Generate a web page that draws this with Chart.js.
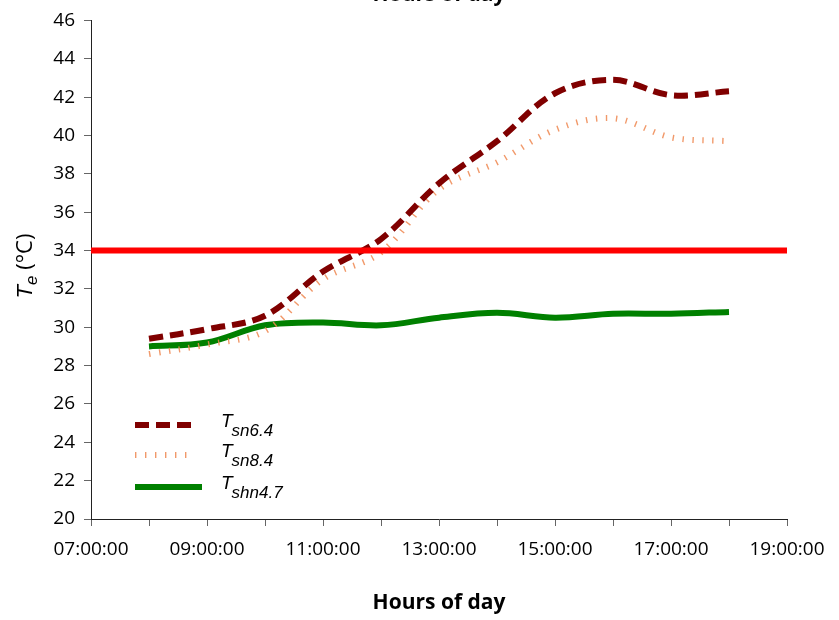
<!DOCTYPE html>
<html>
<head>
<meta charset="utf-8">
<script src="https://cdn.jsdelivr.net/npm/chart.js@4/dist/chart.umd.min.js"></script>
<style>
  html, body { margin: 0; padding: 0; background: #fff; overflow: hidden; }
  #wrap { position: relative; width: 839px; height: 620px; }
</style>
</head>
<body>
<div id="wrap"><canvas id="chart" width="839" height="620"></canvas></div>
<script>
// Hourly operative temperatures (°C)
const hours  = [8, 9, 10, 11, 12, 13, 14, 15, 16, 17, 18];
const tsn64  = [29.4, 29.9, 30.6, 32.9, 34.6, 37.5, 39.7, 42.2, 42.9, 42.1, 42.3];
const tsn84  = [28.6, 29.1, 29.8, 32.5, 33.9, 37.2, 38.6, 40.3, 40.9, 39.9, 39.7];
const tshn47 = [29.0, 29.2, 30.1, 30.25, 30.1, 30.5, 30.75, 30.5, 30.7, 30.7, 30.8];

// Comfort threshold line
const limitHours = [7, 19];
const limitTemps = [34, 34];

// Axis ticks
const tickHours  = [7, 9, 11, 13, 15, 17, 19];
const tickLabels = ['07:00:00', '09:00:00', '11:00:00', '13:00:00', '15:00:00', '17:00:00', '19:00:00'];

const toPoints = (xs, ys) => xs.map((x, i) => ({ x: x, y: ys[i] }));

const TICK_FONT = "'Open Sans', sans-serif";
const ITALIC_FONT = "'Liberation Sans', Arial, sans-serif";

// Legend entries with subscripted names
const legendEntries = [
  { ds: 1, main: 'T', sub: 'sn6.4' },
  { ds: 2, main: 'T', sub: 'sn8.4' },
  { ds: 3, main: 'T', sub: 'shn4.7' }
];

const extrasPlugin = {
  id: 'extras',
  afterDraw(chart) {
    const ctx = chart.ctx;
    const area = chart.chartArea;

    // Title at the top edge
    ctx.save();
    ctx.fillStyle = '#000';
    ctx.font = "bold 21px " + TICK_FONT;
    ctx.textAlign = 'center';
    ctx.textBaseline = 'alphabetic';
    ctx.fillText('Hours of day', (area.left + area.right) / 2, 1);
    ctx.restore();

    // Y axis title: T_e (°C)
    ctx.save();
    ctx.translate(32, 266);
    ctx.rotate(-Math.PI / 2);
    ctx.fillStyle = '#000';
    ctx.textBaseline = 'alphabetic';
    ctx.textAlign = 'left';
    const fT = "italic 22px " + ITALIC_FONT;
    const fE = "italic 17px " + ITALIC_FONT;
    const fU = "22px " + TICK_FONT;
    ctx.font = fT; const wT = ctx.measureText('T').width;
    ctx.font = fE; const wE = ctx.measureText('e').width;
    ctx.font = fU; const wU = ctx.measureText(' (°C)').width;
    let x0 = -(wT + wE + wU) / 2;
    ctx.font = fT; ctx.fillText('T', x0, 0); x0 += wT;
    ctx.font = fE; ctx.fillText('e', x0, 5); x0 += wE;
    ctx.font = fU; ctx.fillText(' (°C)', x0, 0);
    ctx.restore();

    // Legend
    const rows = [425, 455, 487];
    legendEntries.forEach((e, i) => {
      const ds = chart.data.datasets[e.ds];
      const y = rows[i];
      ctx.save();
      ctx.strokeStyle = ds.borderColor;
      ctx.lineWidth = ds.borderWidth;
      ctx.lineCap = 'butt';
      ctx.setLineDash(ds.borderDash || []);
      ctx.beginPath();
      ctx.moveTo(135, y);
      ctx.lineTo(i === 2 ? 202 : 193, y);
      ctx.stroke();
      ctx.restore();

      ctx.save();
      ctx.fillStyle = '#000';
      ctx.textBaseline = 'alphabetic';
      ctx.font = "italic 19px " + ITALIC_FONT;
      ctx.fillText(e.main, 221, y + 2);
      const w = ctx.measureText(e.main).width;
      ctx.font = "italic 17px " + ITALIC_FONT;
      ctx.fillText(e.sub, 221 + w - 1, y + 11);
      ctx.restore();
    });
  }
};

new Chart(document.getElementById('chart'), {
  type: 'line',
  data: {
    datasets: [
      {
        label: 'Limit',
        data: toPoints(limitHours, limitTemps),
        borderColor: '#ff0000',
        borderWidth: 6,
        pointRadius: 0,
        tension: 0
      },
      {
        label: 'Tsn6.4',
        data: toPoints(hours, tsn64),
        borderColor: '#800000',
        borderWidth: 6,
        borderDash: [14, 7],
        borderCapStyle: 'butt',
        pointRadius: 0,
        tension: 0.35
      },
      {
        label: 'Tsn8.4',
        data: toPoints(hours, tsn84),
        borderColor: 'rgba(238,135,80,0.85)',
        borderWidth: 6,
        borderDash: [1.4, 8.6],
        borderCapStyle: 'butt',
        pointRadius: 0,
        tension: 0.35
      },
      {
        label: 'Tshn4.7',
        data: toPoints(hours, tshn47),
        borderColor: '#008000',
        borderWidth: 6,
        pointRadius: 0,
        tension: 0.35
      }
    ]
  },
  options: {
    responsive: false,
    animation: false,
    devicePixelRatio: 1,
    layout: { padding: { left: 0, right: 52, top: 15, bottom: 0 } },
    plugins: {
      legend: { display: false },
      title: { display: false },
      tooltip: { enabled: false }
    },
    scales: {
      x: {
        type: 'linear',
        min: 7,
        max: 19,
        afterFit(scale) { scale.height = 101; },
        border: { color: '#222', width: 1 },
        grid: { drawOnChartArea: false, drawTicks: true, tickLength: 7, color: '#666' },
        ticks: {
          stepSize: 1,
          autoSkip: false,
          maxRotation: 0,
          padding: 12,
          color: '#000',
          font: { family: TICK_FONT, size: 19 },
          callback(v) {
            const i = tickHours.indexOf(v);
            return i >= 0 ? tickLabels[i] : '';
          }
        },
        title: {
          display: true,
          text: 'Hours of day',
          color: '#000',
          font: { family: TICK_FONT, size: 21, weight: 'bold' },
          padding: { top: 0, bottom: 4 }
        }
      },
      y: {
        min: 20,
        max: 46,
        afterFit(scale) { scale.width = 91; },
        border: { color: '#222', width: 1 },
        grid: { drawOnChartArea: false, drawTicks: true, tickLength: 7, color: '#666' },
        ticks: {
          stepSize: 2,
          padding: 9,
          color: '#000',
          font: { family: TICK_FONT, size: 19 }
        }
      }
    }
  },
  plugins: [extrasPlugin]
});
</script>
</body>
</html>
